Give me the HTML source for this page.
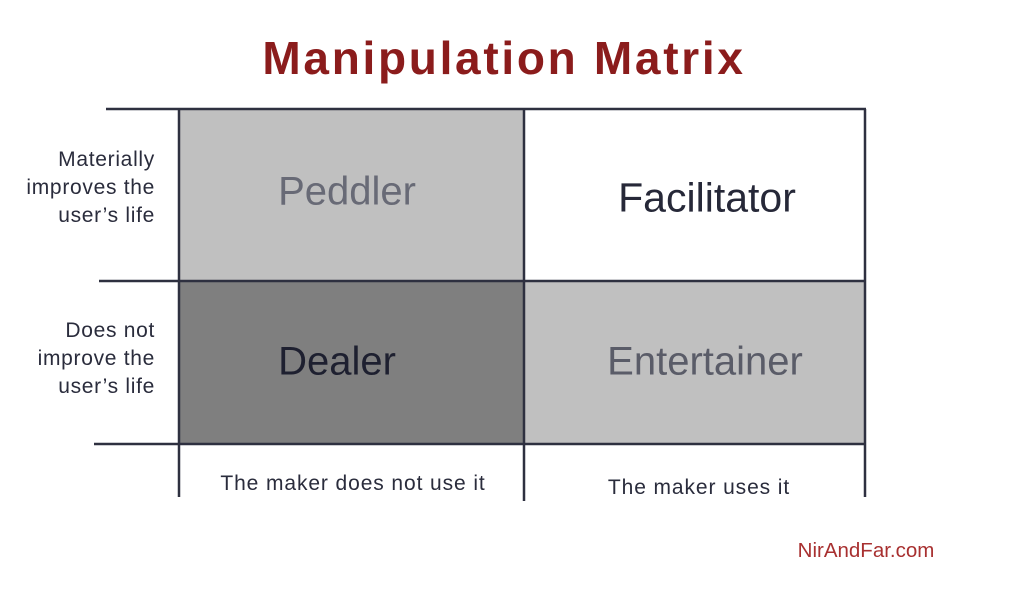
<!DOCTYPE html>
<html><head><style>
body{margin:0;width:1023px;height:600px;background:#fff;overflow:hidden;position:relative;font-family:"Liberation Sans",sans-serif}
.a{position:absolute;white-space:nowrap}
.c{transform:translate(-50%,-50%)}
.l{position:absolute;text-align:right;right:868px;font-size:21px;letter-spacing:0.7px;line-height:28px;color:#2a2c3c}
</style></head><body>
<div class="a c" style="left:504px;top:58px;font-size:46px;font-weight:bold;color:#8b1c1c;letter-spacing:2.7px">Manipulation Matrix</div>
<svg width="1023" height="600" style="position:absolute;left:0;top:0">
<rect x="179" y="109" width="345" height="172" fill="#c0c0c0"/>
<rect x="179" y="281" width="345" height="163" fill="#7f7f7f"/>
<rect x="524" y="281" width="341" height="163" fill="#c0c0c0"/>
<g stroke="#2e3040" stroke-width="2.5">
<line x1="106" y1="109" x2="866" y2="109"/>
<line x1="99" y1="281" x2="866" y2="281"/>
<line x1="94" y1="444" x2="866" y2="444"/>
<line x1="179" y1="109" x2="179" y2="497"/>
<line x1="524" y1="109" x2="524" y2="501"/>
<line x1="865" y1="109" x2="865" y2="497"/>
</g>
</svg>
<div class="a c" style="left:347px;top:192px;font-size:40px;color:#686a76">Peddler</div>
<div class="a c" style="left:707px;top:198px;font-size:41px;color:#262838">Facilitator</div>
<div class="a c" style="left:337px;top:362px;font-size:40px;color:#1e2030">Dealer</div>
<div class="a c" style="left:705px;top:362px;font-size:40px;color:#5a5c68">Entertainer</div>
<div class="l" style="top:146px">Materially<br>improves the<br>user’s life</div>
<div class="l" style="top:317px">Does not<br>improve the<br>user’s life</div>
<div class="a c" style="left:353px;top:484px;font-size:21px;letter-spacing:0.9px;color:#2a2c3c">The maker does not use it</div>
<div class="a c" style="left:699px;top:488px;font-size:21px;letter-spacing:0.9px;color:#2a2c3c">The maker uses it</div>
<div class="a c" style="left:866px;top:551px;font-size:20.5px;color:#a83030">NirAndFar.com</div>
</body></html>
